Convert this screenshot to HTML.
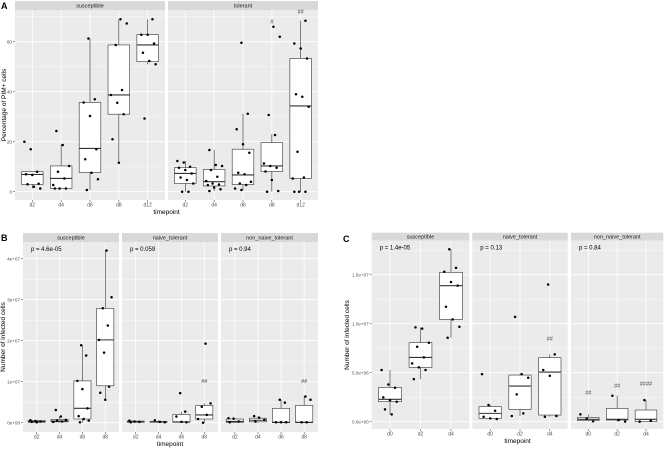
<!DOCTYPE html>
<html><head><meta charset="utf-8"><style>
html,body{margin:0;padding:0;background:#fff;}
svg{display:block;font-family:"Liberation Sans",sans-serif;}
</style></head><body>
<svg id="fig" width="669" height="449" viewBox="0 0 669 449" xmlns="http://www.w3.org/2000/svg"></svg>
<script>
// ---------- DATA ----------
// Panel A (percentage)
const aCats = ["d2","d4","d6","d8","d12"];
const aTicks = [0,20,40,60];
const aTickLabels = ["0","20","40","60"];
const aSusQ1 = [2.9,1.3,7.7,31,52];
const aSusMed = [6.9,5.3,17.3,38.7,58.7];
const aSusQ3 = [8,10.3,35.7,58.7,62.8];
const aSusLo = [1.3,1.3,0.7,11.6,51];
const aSusHi = [8,19,61.3,69,69];
const aSusPts = [[20,17,8,7,6.7,3.2,3,2,1.3],[24.3,18.7,10.3,8,5.3,2.7,1.3,1.3,1.3],[61.3,37,35.7,30.3,17,13,7.6,5,0.7],[69,67.3,58.7,40.7,38.7,35.6,31,21,11.6],[69,62.8,62.8,59.3,55.6,52.3,51,29.3]];
const aSusAnn = ["","","","",""];
const aTolQ1 = [3.3,2.3,2.9,8.1,5.3];
const aTolMed = [7.3,4,6.7,10.3,34.3];
const aTolQ3 = [9.7,8.9,17,19.6,53.3];
const aTolLo = [0,0.3,0.7,0,0];
const aTolHi = [12.3,16.7,31.2,23,68.4];
const aTolPts = [[12.3,11.7,10,9.6,8.7,7.3,5.7,4.7,3.3,0,0],[16.7,10.7,10.3,8.7,6,4.3,3.3,2.9,2.7,1.7,1,0.3],[59.6,31.2,25,19,15.6,7.6,7,4,3.3,2.7,1.3,0.7],[66,62,30.7,22.7,11.3,10.3,9.6,8.1,4.7,0.3,0],[68.4,59.3,57.3,53.3,39,38,34,16,5.7,5.3,0,0,0]];
const aTolAnn = ["","","","#","##"];
const aTolAnnY = [0,0,0,68,72];

// Panel B (units of 1e7)
const bCats = ["d2","d4","d6","d8"];
const bTicks = [0,1,2,3,4];
const bTickLabels = ["0e+00","1e+07","2e+07","3e+07","4e+07"];
const bSusQ1 = [0.01,0.02,0.09,0.9];
const bSusMed = [0.03,0.04,0.35,2.02];
const bSusQ3 = [0.05,0.08,1.02,2.79];
const bSusLo = [0,0,0,0.56];
const bSusHi = [0.06,0.15,1.89,4.2];
const bSusPts = [[0.06,0.04,0.03,0.02,0.01],[0.31,0.15,0.07,0.05,0.03,0.02],[1.89,1.64,1.02,0.82,0.35,0.16,0.09,0.05,0.01],[4.2,3.06,2.79,2.37,2.02,1.71,0.88,0.73,0.56]];
const bNaiQ1 = [0.01,0.01,0.01,0.09];
const bNaiMed = [0.02,0.02,0.02,0.19];
const bNaiQ3 = [0.04,0.03,0.2,0.42];
const bNaiLo = [0,0,0,0];
const bNaiHi = [0.05,0.06,0.27,0.47];
const bNaiPts = [[0.05,0.03,0.02,0.01],[0.06,0.02,0.01],[0.72,0.27,0.15,0.02,0.01],[1.93,0.47,0.39,0.19,0.09,0]];
const bNaiAnn = ["","","","##"];
const bNaiAnnY = [0,0,0,1.02];
const bNonQ1 = [0.01,0.02,0,0];
const bNonMed = [0.03,0.06,0.01,0.01];
const bNonQ3 = [0.09,0.11,0.35,0.42];
const bNonLo = [0,0,0,0];
const bNonHi = [0.11,0.16,0.56,0.64];
const bNonPts = [[0.11,0.1,0.03,0.01],[0.16,0.12,0.07,0.03],[0.56,0.49,0.01,0.01,0.01],[0.64,0.56,0.01,0.01]];
const bNonAnn = ["","","","##"];
const bNonAnnY = [0,0,0,1.02];

// Panel C (units of 1e6)
const cCats = ["d0","d2","d4"];
const cTicks = [0,5,10,15];
const cTickLabels = ["0.0e+00","5.0e+06","1.0e+07","1.5e+07"];
const cSusQ1 = [2.04,5.54,10.44];
const cSusMed = [2.28,6.56,13.88];
const cSusQ3 = [3.5,8.06,15.24];
const cSusLo = [0.75,4.35,8.57];
const cSusHi = [5.27,9.63,17.6];
const cSusPts = [[5.27,3.8,3.47,2.48,2.2,2.04,1.26,0.75],[9.63,9.5,8.06,7.65,6.56,5.95,5.54,5.27,4.35],[17.6,15.7,15.3,14.25,13.88,11.73,10.44,9.69,8.57]];
const cNaiQ1 = [0.34,1.26,0.68];
const cNaiMed = [0.85,3.64,5.07];
const cNaiQ3 = [1.53,4.76,6.53];
const cNaiLo = [0.27,0.58,0.51];
const cNaiHi = [1.7,4.86,6.87];
const cNaiPts = [[4.86,1.7,1.12,0.51,0.34,0.27],[10.7,4.86,4.49,2.79,0.85,0.58],[14,6.87,5.27,4.69,0.58,0.51]];
const cNaiAnn = ["","","##"];
const cNaiAnnY = [0,0,8.5];
const cNonQ1 = [0.1,0.17,0];
const cNonMed = [0.24,0.24,0.24];
const cNonQ3 = [0.44,1.36,1.19];
const cNonLo = [0.03,0,0];
const cNonHi = [0.75,2.65,2.2];
const cNonPts = [[0.75,0.3,0.05],[2.65,0.17,0.02],[2.2,0.1,0.01]];
const cNonAnn = ["##","##","####"];
const cNonAnnY = [2.96,3.67,3.9];

// ---------- DRAW ----------
const NS = "http://www.w3.org/2000/svg";
const svg = document.getElementById("fig");
function mk(tag, attrs, parent, text){
  const e = document.createElementNS(NS, tag);
  for (const k in attrs) e.setAttribute(k, attrs[k]);
  if (text !== undefined) e.textContent = text;
  (parent || svg).appendChild(e);
  return e;
}

function facet(o){
  const g = mk("g", {});
  
  
  const n = o.cats.length;
  const step = (o.x1 - o.x0) / (n - 1 + 1.2);
  const xs = i => o.x0 + (i + 0.6) * step;
  const ys = v => o.zero - v * o.ppu;
  // strip
  const strip = mk("rect", {x:o.x0, y:o.sTop, width:o.x1-o.x0, height:o.top-o.sTop, fill:"#d9d9d9"}, g);
  
  
  const st = mk("text", {x:(o.x0+o.x1)/2, y:(o.sTop+o.top)/2+2, "font-size":5.5, fill:"#1a1a1a", "text-anchor":"middle"}, g, o.name);
  
  
  // panel bg
  const bg = mk("rect", {x:o.x0, y:o.top, width:o.x1-o.x0, height:o.bottom-o.top, fill:"#ebebeb"}, g);
  
  
  // grid
  for (let k = 0; k < o.ticks.length; k++) {
    const t = o.ticks[k];
    const y = ys(t);
    if (y >= o.top && y <= o.bottom) {
      const gl = mk("line", {x1:o.x0, x2:o.x1, y1:y, y2:y, stroke:"#fff", "stroke-width":0.8}, g);
      
      
    }
    const dt = k + 1 < o.ticks.length ? (o.ticks[k+1]-t) : (o.ticks[1]-o.ticks[0]);
    const ym = ys(t + dt/2);
    if (ym >= o.top && ym <= o.bottom) {
      const gm = mk("line", {x1:o.x0, x2:o.x1, y1:ym, y2:ym, stroke:"#fff", "stroke-width":0.4}, g);
      
      
    }
  }
  for (let i = 0; i < n; i++) {
    const gv = mk("line", {x1:xs(i), x2:xs(i), y1:o.top, y2:o.bottom, stroke:"#fff", "stroke-width":0.8}, g);
    
    
    const xt = mk("line", {x1:xs(i), x2:xs(i), y1:o.bottom, y2:o.bottom+2, stroke:"#333", "stroke-width":0.5}, g);
    
    
    const xl = mk("text", {x:xs(i), y:o.bottom+6.5, "font-size":5, fill:"#4d4d4d", "text-anchor":"middle"}, g, o.cats[i]);
    
    
  }
  if (o.yAxis) {
    for (let k = 0; k < o.ticks.length; k++) {
      const y = ys(o.ticks[k]);
      const yt = mk("line", {x1:o.x0-2, x2:o.x0, y1:y, y2:y, stroke:"#333", "stroke-width":0.5}, g);
      
      
      const yl = mk("text", {x:o.x0-3, y:y+1.7, "font-size":4.6, fill:"#4d4d4d", "text-anchor":"end"}, g, o.tickLabels[k]);
      
      
    }
  }
  // boxes
  const bw = step * 0.75;
  for (let i = 0; i < n; i++) {
    const cx = xs(i);
    const w1 = mk("line", {x1:cx, x2:cx, y1:ys(o.hi[i]), y2:ys(o.q3[i]), stroke:"#333", "stroke-width":0.6}, g);
    
    
    const w2 = mk("line", {x1:cx, x2:cx, y1:ys(o.q1[i]), y2:ys(o.lo[i]), stroke:"#333", "stroke-width":0.6}, g);
    
    
    const bx = mk("rect", {x:cx-bw/2, y:ys(o.q3[i]), width:bw, height:Math.max(0.5, ys(o.q1[i])-ys(o.q3[i])), fill:"#fff", stroke:"#333", "stroke-width":0.6}, g);
    
    
    const md = mk("line", {x1:cx-bw/2, x2:cx+bw/2, y1:ys(o.med[i]), y2:ys(o.med[i]), stroke:"#333", "stroke-width":1.1}, g);
    
    
    const pts = o.pts[i];
    for (let j = 0; j < pts.length; j++) {
      const jit = (((j * 37 + i * 13) % 11) / 10 - 0.5) * 0.55 * step;
      const p = mk("circle", {cx:cx+jit, cy:ys(pts[j]), r:1.25, fill:"#000"}, g);
      
      
    }
    if (o.ann && o.ann[i]) {
      const a = mk("text", {x:cx, y:ys(o.annY[i])+2, "font-size":5.5, fill:"#333", "text-anchor":"middle"}, g, o.ann[i]);
      
      
    }
  }
  if (o.p) {
    const pt = mk("text", {x:o.x0+8, y:o.top+9, "font-size":6, fill:"#000"}, g, o.p);
    
    
  }
}

function label(txt, x, y, size, name, extra){
  const t = mk("text", Object.assign({x:x, y:y, "font-size":size, fill:"#000"}, extra||{}), svg, txt);
  
  
}

// Panel A
const aGeom = {sTop:1, top:10, bottom:200, zero:191.7, ppu:2.5};
facet(Object.assign({id:"a-susceptible", name:"susceptible", x0:15, x1:165, yAxis:true, cats:aCats, ticks:aTicks, tickLabels:aTickLabels, q1:aSusQ1, med:aSusMed, q3:aSusQ3, lo:aSusLo, hi:aSusHi, pts:aSusPts}, aGeom));
facet(Object.assign({id:"a-tolerant", name:"tolerant", x0:168, x1:318, cats:aCats, ticks:aTicks, tickLabels:aTickLabels, q1:aTolQ1, med:aTolMed, q3:aTolQ3, lo:aTolLo, hi:aTolHi, pts:aTolPts, ann:aTolAnn, annY:aTolAnnY}, aGeom));
label("A", 1, 9, 9, "panel-a-label", {"font-weight":"bold"});
label("timepoint", 166.5, 214, 6.5, "a-x-axis-title", {"text-anchor":"middle"});
label("Percentage of PIM+ cells", 0, 0, 6.5, "a-y-axis-title", {"text-anchor":"middle", transform:"translate(6,105) rotate(-90)"});

// Panel B
const bGeom = {sTop:233, top:242, bottom:432, zero:422.7, ppu:41};
facet(Object.assign({id:"b-susceptible", name:"susceptible", x0:23, x1:119, yAxis:true, cats:bCats, ticks:bTicks, tickLabels:bTickLabels, q1:bSusQ1, med:bSusMed, q3:bSusQ3, lo:bSusLo, hi:bSusHi, pts:bSusPts, p:"p = 4.6e-05"}, bGeom));
facet(Object.assign({id:"b-naive-tolerant", name:"naive_tolerant", x0:122, x1:218, cats:bCats, ticks:bTicks, tickLabels:bTickLabels, q1:bNaiQ1, med:bNaiMed, q3:bNaiQ3, lo:bNaiLo, hi:bNaiHi, pts:bNaiPts, ann:bNaiAnn, annY:bNaiAnnY, p:"p = 0.059"}, bGeom));
facet(Object.assign({id:"b-non-naive-tolerant", name:"non_naive_tolerant", x0:221, x1:318, cats:bCats, ticks:bTicks, tickLabels:bTickLabels, q1:bNonQ1, med:bNonMed, q3:bNonQ3, lo:bNonLo, hi:bNonHi, pts:bNonPts, ann:bNonAnn, annY:bNonAnnY, p:"p = 0.94"}, bGeom));
label("B", 1, 241, 9, "panel-b-label", {"font-weight":"bold"});
label("timepoint", 170, 446, 6.5, "b-x-axis-title", {"text-anchor":"middle"});
label("Number of infected cells", 0, 0, 6.5, "b-y-axis-title", {"text-anchor":"middle", transform:"translate(5,337) rotate(-90)"});

// Panel C
const cGeom = {sTop:232.7, top:240.7, bottom:429, zero:421.7, ppu:9.8};
facet(Object.assign({id:"c-susceptible", name:"susceptible", x0:371.7, x1:469.3, yAxis:true, cats:cCats, ticks:cTicks, tickLabels:cTickLabels, q1:cSusQ1, med:cSusMed, q3:cSusQ3, lo:cSusLo, hi:cSusHi, pts:cSusPts, p:"p = 1.4e-05"}, cGeom));
facet(Object.assign({id:"c-naive-tolerant", name:"naive_tolerant", x0:472.3, x1:567.7, cats:cCats, ticks:cTicks, tickLabels:cTickLabels, q1:cNaiQ1, med:cNaiMed, q3:cNaiQ3, lo:cNaiLo, hi:cNaiHi, pts:cNaiPts, ann:cNaiAnn, annY:cNaiAnnY, p:"p = 0.13"}, cGeom));
facet(Object.assign({id:"c-non-naive-tolerant", name:"non_naive_tolerant", x0:571, x1:663.3, cats:cCats, ticks:cTicks, tickLabels:cTickLabels, q1:cNonQ1, med:cNonMed, q3:cNonQ3, lo:cNonLo, hi:cNonHi, pts:cNonPts, ann:cNonAnn, annY:cNonAnnY, p:"p = 0.84"}, cGeom));
label("C", 343, 242, 9, "panel-c-label", {"font-weight":"bold"});
label("timepoint", 517.5, 443, 6.5, "c-x-axis-title", {"text-anchor":"middle"});
label("Number of infected cells", 0, 0, 6.5, "c-y-axis-title", {"text-anchor":"middle", transform:"translate(349,335) rotate(-90)"});
</script>
</body></html>
